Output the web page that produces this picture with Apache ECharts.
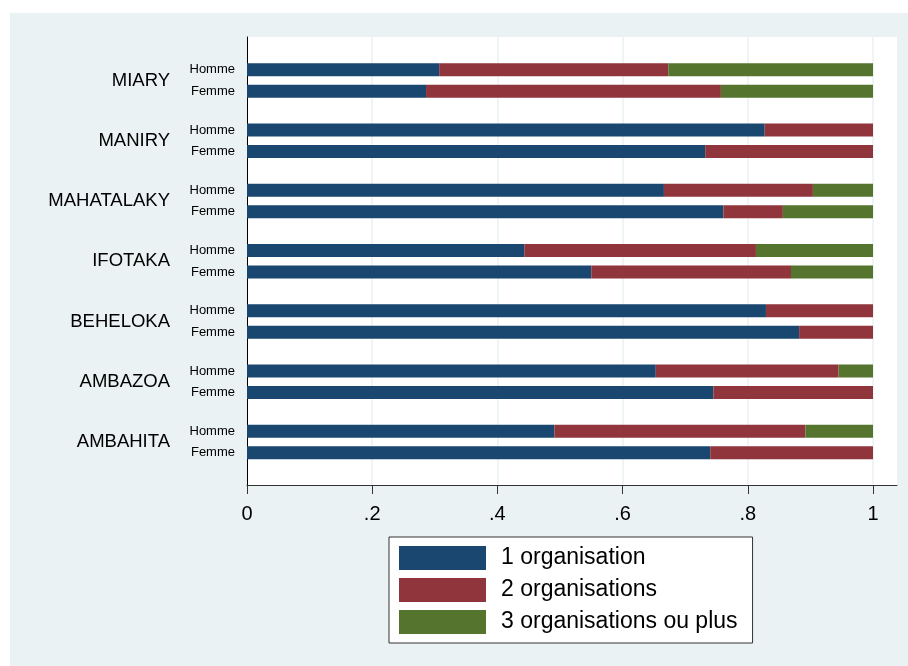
<!DOCTYPE html>
<html>
<head>
<meta charset="utf-8">
<script src="https://cdn.jsdelivr.net/npm/echarts@6/dist/echarts.min.js"></script>
<style>
html,body{margin:0;padding:0;background:#fff;}
#c{width:908px;height:666px;}
</style>
</head>
<body>
<div id="c"></div>
<script>
// ---- data ----
var groups = ['MIARY', 'MANIRY', 'MAHATALAKY', 'IFOTAKA', 'BEHELOKA', 'AMBAZOA', 'AMBAHITA'];
var sexes = ['Homme', 'Femme'];
var seriesNames = ['1 organisation', '2 organisations', '3 organisations ou plus'];
// per group: [Homme, Femme]
var one   = [[0.307, 0.286], [0.827, 0.732], [0.666, 0.761], [0.443, 0.550], [0.829, 0.882], [0.653, 0.745], [0.491, 0.740]];
var two   = [[0.366, 0.471], [0.173, 0.268], [0.238, 0.095], [0.370, 0.319], [0.171, 0.118], [0.292, 0.255], [0.401, 0.260]];
var three = [[0.327, 0.243], [0.000, 0.000], [0.096, 0.144], [0.187, 0.131], [0.000, 0.000], [0.055, 0.000], [0.108, 0.000]];
var xTicks = [0, 0.2, 0.4, 0.6, 0.8, 1];
var xTickLabels = ['0', '.2', '.4', '.6', '.8', '1'];

var colors = ['#1A476F', '#90353B', '#55752F'];
var FONT = "'Liberation Sans', Arial, sans-serif";
var chart = echarts.init(document.getElementById('c'), null, {renderer: 'canvas'});

var L = 247;            // plot left
var Rfull = 11;         // plot right margin (white area / axis line)
var Rdata = 35;         // right margin where value 1 sits
var T = 37, B = 181;
var groupPitch = 60.25;

function col(arr, si) { return arr.map(function (p) { return p[si]; }); }

var series = [];
sexes.forEach(function (sex, si) {
  [one, two, three].forEach(function (arr, k) {
    var s = {
      name: seriesNames[k], type: 'bar', stack: sex,
      xAxisIndex: 2, yAxisIndex: 2, barWidth: 13, barGap: '65%',
      itemStyle: {color: colors[k]},
      data: col(arr, si)
    };
    if (k === 0) {
      s.label = {
        show: true, position: 'left', distance: 12,
        fontSize: 13, color: '#000', fontFamily: FONT, padding: [3, 0, 0, 0],
        formatter: (function (name) { return function () { return name; }; })(sex)
      };
    }
    series.push(s);
  });
});
series.push({name: 'axes0', type: 'scatter', xAxisIndex: 0, yAxisIndex: 0, data: [], silent: true});
series.push({name: 'axes1', type: 'scatter', xAxisIndex: 1, yAxisIndex: 1, data: [], silent: true});

var option = {
  backgroundColor: '#ffffff',
  animation: false,
  textStyle: {fontFamily: FONT, color: '#000'},
  graphic: [
    {type: 'rect', z: -10, silent: true, shape: {x: 10, y: 13, width: 898, height: 653}, style: {fill: '#EAF2F3'}},
    {type: 'rect', z: -9, silent: true, shape: {x: L, y: T, width: 908 - Rfull - L, height: 666 - B - T}, style: {fill: '#ffffff'}}
  ],
  grid: [
    {left: L, right: Rfull, top: T, bottom: B, containLabel: false},
    {left: L, right: Rdata, top: T, bottom: B, containLabel: false},
    {left: L, right: Rdata, top: 50.4, height: groupPitch * groups.length, containLabel: false}
  ],
  xAxis: [
    {
      gridIndex: 0, type: 'value', min: 0, max: 1,
      axisLine: {show: true, onZero: false, lineStyle: {color: '#333333', width: 1}},
      axisTick: {show: false}, axisLabel: {show: false}, splitLine: {show: false}
    },
    {
      gridIndex: 1, type: 'value', min: 0, max: 1, interval: 0.2,
      axisLine: {show: false},
      axisTick: {show: true, length: 9, lineStyle: {color: '#333333', width: 1}},
      axisLabel: {
        fontSize: 20, margin: 19, color: '#000', fontFamily: FONT,
        formatter: function (v) {
          for (var i = 0; i < xTicks.length; i++) if (Math.abs(xTicks[i] - v) < 1e-9) return xTickLabels[i];
          return '';
        }
      },
      splitLine: {show: true, lineStyle: {color: '#EAF2F3', width: 1.5}}
    },
    {gridIndex: 2, type: 'value', min: 0, max: 1, show: false}
  ],
  yAxis: [
    {
      gridIndex: 0, type: 'value', min: 0, max: 1,
      axisLine: {show: true, onZero: false, lineStyle: {color: '#000000', width: 1}},
      axisTick: {show: false}, axisLabel: {show: false}, splitLine: {show: false}
    },
    {gridIndex: 1, type: 'value', min: 0, max: 1, show: false},
    {
      gridIndex: 2, type: 'category', inverse: true, data: groups,
      axisLine: {show: false}, axisTick: {show: false}, splitLine: {show: false},
      axisLabel: {fontSize: 18.5, margin: 77, color: '#000', fontFamily: FONT, interval: 0, padding: [6, 0, 0, 0]}
    }
  ],
  legend: {
    orient: 'vertical', left: 389, top: 537,
    data: seriesNames,
    icon: 'rect',
    itemWidth: 87, itemHeight: 24, itemGap: 8,
    padding: [9, 15, 9, 10],
    backgroundColor: '#ffffff',
    borderColor: '#333333', borderWidth: 1, borderRadius: 0,
    textStyle: {fontSize: 23, color: '#000', fontFamily: FONT, padding: [0, 0, 0, 10]}
  },
  series: series
};
chart.setOption(option);
</script>
</body>
</html>
